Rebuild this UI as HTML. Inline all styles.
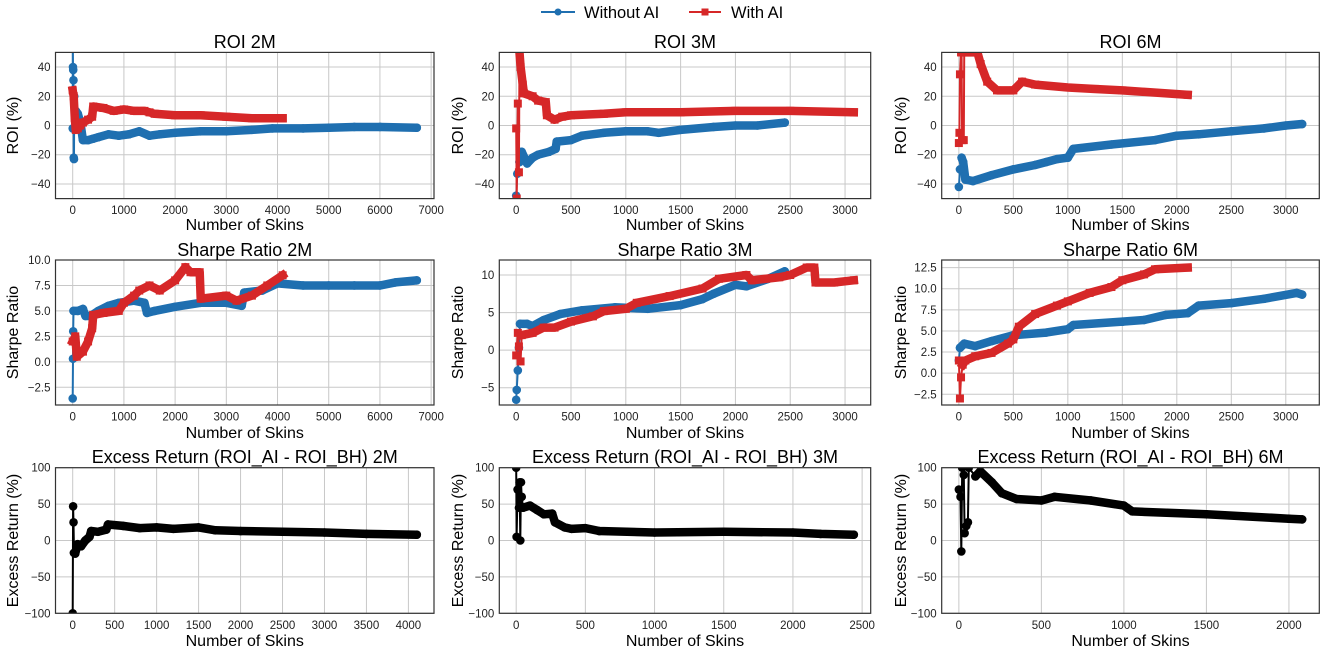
<!DOCTYPE html>
<html><head><meta charset="utf-8">
<style>
html,body{margin:0;padding:0;background:#fff;}
svg{display:block;font-family:"Liberation Sans","DejaVu Sans",sans-serif;}
</style></head>
<body>
<svg id="fig" width="1325" height="651" viewBox="0 0 1325 651" xmlns="http://www.w3.org/2000/svg">
<g>
  <line x1="541" y1="12" x2="575" y2="12" stroke="#1f6fb0" stroke-width="2"/>
  <circle cx="558" cy="12" r="3.5" fill="#1f6fb0"/>
  <text x="584" y="18" font-size="16.5">Without AI</text>
  <line x1="689" y1="12" x2="721" y2="12" stroke="#d62728" stroke-width="2"/>
  <rect x="701.5" y="8.5" width="7" height="7" fill="#d62728"/>
  <text x="731" y="18" font-size="16.5">With AI</text>
</g>
</svg>
<script>
// ---- data (x = number of skins, y = metric) ----
const roi2mBlueX=[0,2,5,10,15,20,25,30,60,100,150,200,300,400,500,700,900,1100,1300,1500,1700,2000,2500,3000,3500,3900,4500,5000,5500,6000,6720];
const roi2mBlueY=[-2,60,40,38,31,-22,-23,20,10,8,2,-10,-10,-9,-8,-6,-7,-6,-4,-7,-6,-5,-4,-4,-3,-2,-2,-1.5,-1,-1,-1.5];
const roi2mRedX=[0,20,40,60,80,100,150,200,300,380,400,600,800,1000,1200,1400,1500,1600,2000,2500,3000,3500,4100];
const roi2mRedY=[24,20,5,-3,2,-2,0,2,4,6,13,12,10,11,10,10,9,8,7,7,6,5,5];
const sr2mBlueX=[0,5,10,15,100,200,250,350,500,700,900,1200,1400,1450,1600,2000,2500,3000,3300,3350,3700,4000,4500,5000,5500,6000,6300,6720];
const sr2mBlueY=[-3.6,0.3,3,5,5,5.2,4.5,4.5,5,5.5,5.8,6,5.8,4.8,5,5.4,5.8,5.8,5.5,6.8,7,7.7,7.5,7.5,7.5,7.5,7.8,8];
const sr2mRedX=[0,50,80,200,300,380,400,600,900,1000,1200,1300,1500,1700,2000,2200,2300,2480,2500,3000,3200,3500,3800,4100];
const sr2mRedY=[2,2.5,0.5,1,2,3.3,4.6,4.8,5,5.8,6.5,7,7.5,7,8,9.3,8.8,8.8,6.2,6.5,6,6.5,7.5,8.5];
const ex2mX=[0,5,10,15,30,60,100,150,200,220,300,400,420,600,800,1000,1200,1500,1700,2000,2500,3000,3500,4100];
const ex2mY=[-100,47,25,-17,-18,-5,-8,0,5,13,12,15,22,20,17,18,16,18,14,13,12,11,9,8];

const roi3mBlueX=[0,10,30,50,100,150,200,300,360,370,500,600,800,1000,1200,1300,1500,1800,2000,2200,2450];
const roi3mBlueY=[-48,-33,-25,-18,-26,-22,-20,-18,-16,-11,-10,-7,-5,-4,-4,-5,-3,-1,0,0,2];
const roi3mRedX=[0,5,15,25,30,40,60,70,150,200,270,280,350,420,500,800,1000,1500,2000,2500,3080];
const roi3mRedY=[-2,-50,15,-32,50,40,28,22,20,17,16,7,4,6,7,8,9,9,10,10,9];
const sr3mBlueX=[0,5,15,25,35,100,150,250,400,600,900,1200,1500,1700,1800,2000,2100,2300,2450];
const sr3mBlueY=[-6.6,-5.3,-2.7,0.3,3.5,3.5,3.2,4,4.8,5.3,5.7,5.5,6,6.8,7.5,8.7,8.5,9.5,10.5];
const sr3mRedX=[0,15,25,40,50,150,250,350,500,700,800,1000,1100,1400,1700,1850,2100,2150,2400,2500,2650,2720,2730,2900,3080];
const sr3mRedY=[-0.7,2.3,0.5,-1.5,2,2.3,3,3,3.8,4.5,5.2,5.5,6.3,7.2,8.2,9.5,10,9.3,9.7,10,11,11,9,9,9.3];
const ex3mX=[0,3,10,20,25,30,35,40,50,100,150,200,260,280,350,400,500,600,1000,1500,2000,2200,2440];
const ex3mY=[100,5,70,45,80,0,80,60,45,48,42,36,37,25,18,16,17,13,11,12,11,9,8];

const roi6mBlueX=[0,10,25,40,60,130,300,500,700,800,900,1000,1050,1400,1800,2000,2200,2500,2800,3000,3150];
const roi6mBlueY=[-42,-30,-22,-25,-37,-38,-34,-30,-27,-25,-23,-22,-16,-13,-10,-7,-6,-4,-2,0,1];
const roi6mRedX=[0,5,10,20,25,30,45,50,60,170,200,260,350,500,580,700,1000,1250,1500,2100];
const roi6mRedY=[-12,-5,35,50,50,-10,-10,60,50,50,42,30,24,24,30,28,26,25,24,21];
const sr6mBlueX=[0,10,50,150,300,500,800,1000,1050,1500,1700,1900,2100,2200,2500,2800,3100,3150];
const sr6mBlueY=[1.5,3,3.5,3.2,3.8,4.5,4.8,5.2,5.7,6.1,6.3,6.9,7.1,8,8.3,8.8,9.5,9.3];
const sr6mRedX=[0,10,20,35,60,150,300,450,500,550,700,900,1000,1200,1400,1500,1700,1800,2100];
const sr6mRedY=[1.5,-3,-0.5,1,1.5,2,2.4,3.5,4,5.5,7,8,8.5,9.5,10.2,11,11.7,12.3,12.5];
const ex6mX=[0,10,15,20,30,35,45,55,60,100,130,200,260,350,500,580,800,1000,1050,1500,2000,2080];
const ex6mY=[70,60,-15,100,90,10,20,25,100,88,95,80,65,57,55,60,55,48,40,36,30,29];

// tick labels
const ticksX2m=[0,1000,2000,3000,4000,5000,6000,7000];
const ticksX3m=[0,500,1000,1500,2000,2500,3000];
const ticksXex2=[0,500,1000,1500,2000,2500,3000,3500,4000];
const ticksXex3=[0,500,1000,1500,2000,2500];
const ticksXex6=[0,500,1000,1500,2000];
const ticksYroi=[-40,-20,0,20,40];
const ticksYsr2=[-2.5,0,2.5,5,7.5,10];
const ticksYsr3=[-5,0,5,10];
const ticksYsr6=[-2.5,0,2.5,5,7.5,10,12.5];
const ticksYex=[-100,-50,0,50,100];

const NS="http://www.w3.org/2000/svg";
const svg=document.getElementById('fig');
function mk(tag,attrs,parent){const e=document.createElementNS(NS,tag);for(const k in attrs)e.setAttribute(k,attrs[k]);(parent||svg).appendChild(e);return e;}
function fmt(v,dec){let s=dec?v.toFixed(1):String(v);return s.replace('-','\u2212');}

const cols=[{l:55.5,r:434,yl:18},{l:499.3,r:870.7,yl:463},{l:941.7,r:1319.3,yl:906}];
const rows=[{t:52.4,b:198.6,title:48,xl:230},{t:260,b:405,title:256,xl:438},{t:467.7,b:613.3,title:463,xl:646}];
const BLUE="#1f6fb0",RED="#d62728";
let clipId=0;

function panel(name,ci,ri,xlim,ylim,xt,yt,ydec,title,ylabel,series){
  const c=cols[ci],r=rows[ri];
  const g=mk('g',{});
  
  
  const sx=v=>c.l+(v-xlim[0])/(xlim[1]-xlim[0])*(c.r-c.l);
  const sy=v=>r.b-(v-ylim[0])/(ylim[1]-ylim[0])*(r.b-r.t);
  xt.forEach(v=>{mk('line',{x1:sx(v),x2:sx(v),y1:r.t,y2:r.b,stroke:'#c8c8c8','stroke-width':1},g);
    const t=mk('text',{x:sx(v),y:r.b+15.5,'font-size':11.5,'text-anchor':'middle',fill:'#222'},g);t.textContent=fmt(v,false);
    
    });
  yt.forEach(v=>{mk('line',{x1:c.l,x2:c.r,y1:sy(v),y2:sy(v),stroke:'#c8c8c8','stroke-width':1},g);
    const t=mk('text',{x:c.l-5,y:sy(v)+4,'font-size':11.5,'text-anchor':'end',fill:'#222'},g);t.textContent=fmt(v,ydec);
    
    });
  const id='clip'+(clipId++);
  const cp=mk('clipPath',{id:id},g);mk('rect',{x:c.l,y:r.t,width:c.r-c.l,height:r.b-r.t},cp);
  const sg=mk('g',{'clip-path':'url(#'+id+')'},g);
  series.forEach(s=>{
    const pts=s.x.map((v,i)=>sx(v).toFixed(1)+','+sy(s.y[i]).toFixed(1)).join(' ');
    const ln=mk('polyline',{points:pts,fill:'none',stroke:s.color,'stroke-width':2,'stroke-linejoin':'round'},sg);
    
    
    const thick=mk('polyline',{points:pts.split(' ').slice(s.skip).join(' '),fill:'none',stroke:s.color,'stroke-width':8.5,'stroke-linejoin':'round','stroke-linecap':s.marker==='sq'?'square':'round'},sg);
    
    
    s.x.forEach((v,i)=>{
      let m;
      if(s.marker==='sq') m=mk('rect',{x:sx(v)-4,y:sy(s.y[i])-4,width:8,height:8,fill:s.color},sg);
      else m=mk('circle',{cx:sx(v),cy:sy(s.y[i]),r:4.3,fill:s.color},sg);
      
      
    });
  });
  mk('rect',{x:c.l,y:r.t,width:c.r-c.l,height:r.b-r.t,fill:'none',stroke:'#333','stroke-width':1.2},g);
  const tt=mk('text',{x:(c.l+c.r)/2,y:r.title,'font-size':18,'text-anchor':'middle'},g);tt.textContent=title;
  
  
  const xl=mk('text',{x:(c.l+c.r)/2,y:r.xl,'font-size':16,'text-anchor':'middle'},g);xl.textContent='Number of Skins';
  
  
  const cy=(r.t+r.b)/2;
  const yl=mk('text',{x:c.yl,y:cy,'font-size':16,'text-anchor':'middle',transform:'rotate(-90 '+c.yl+' '+cy+')'},g);yl.textContent=ylabel;
  
  
}
const B=(x,y,n,skip)=>({x:x,y:y,color:BLUE,marker:'o',name:n,skip:skip||0});
const R=(x,y,n,skip)=>({x:x,y:y,color:RED,marker:'sq',name:n,skip:skip||0});
const K=(x,y,n,skip)=>({x:x,y:y,color:'#000',marker:'o',name:n,skip:skip||0});

panel('roi-2m-panel',0,0,[-336,7056],[-50,50],ticksX2m,ticksYroi,false,'ROI 2M','ROI (%)',[B(roi2mBlueX,roi2mBlueY,'roi-2m-without-ai',8),R(roi2mRedX,roi2mRedY,'roi-2m-with-ai')]);
panel('roi-3m-panel',1,0,[-154,3234],[-50,50],ticksX3m,ticksYroi,false,'ROI 3M','ROI (%)',[B(roi3mBlueX,roi3mBlueY,'roi-3m-without-ai',2),R(roi3mRedX,roi3mRedY,'roi-3m-with-ai',4)]);
panel('roi-6m-panel',2,0,[-157.5,3307.5],[-50,50],ticksX3m,ticksYroi,false,'ROI 6M','ROI (%)',[B(roi6mBlueX,roi6mBlueY,'roi-6m-without-ai',2),R(roi6mRedX,roi6mRedY,'roi-6m-with-ai',8)]);
panel('sharpe-2m-panel',0,1,[-336,7056],[-4.24,10],ticksX2m,ticksYsr2,true,'Sharpe Ratio 2M','Sharpe Ratio',[B(sr2mBlueX,sr2mBlueY,'sharpe-2m-without-ai',3),R(sr2mRedX,sr2mRedY,'sharpe-2m-with-ai')]);
panel('sharpe-3m-panel',1,1,[-154,3234],[-7.3,12],ticksX3m,ticksYsr3,false,'Sharpe Ratio 3M','Sharpe Ratio',[B(sr3mBlueX,sr3mBlueY,'sharpe-3m-without-ai',4),R(sr3mRedX,sr3mRedY,'sharpe-3m-with-ai',4)]);
panel('sharpe-6m-panel',2,1,[-157.5,3307.5],[-3.77,13.4],ticksX3m,ticksYsr6,true,'Sharpe Ratio 6M','Sharpe Ratio',[B(sr6mBlueX,sr6mBlueY,'sharpe-6m-without-ai',1),R(sr6mRedX,sr6mRedY,'sharpe-6m-with-ai',3)]);
panel('excess-2m-panel',0,2,[-205,4305],[-100,100],ticksXex2,ticksYex,false,'Excess Return (ROI_AI - ROI_BH) 2M','Excess Return (%)',[K(ex2mX,ex2mY,'excess-2m',3)]);
panel('excess-3m-panel',1,2,[-122,2562],[-100,100],ticksXex3,ticksYex,false,'Excess Return (ROI_AI - ROI_BH) 3M','Excess Return (%)',[K(ex3mX,ex3mY,'excess-3m',8)]);
panel('excess-6m-panel',2,2,[-104,2184],[-100,100],ticksXex6,ticksYex,false,'Excess Return (ROI_AI - ROI_BH) 6M','Excess Return (%)',[K(ex6mX,ex6mY,'excess-6m',9)]);
</script>
</body></html>
